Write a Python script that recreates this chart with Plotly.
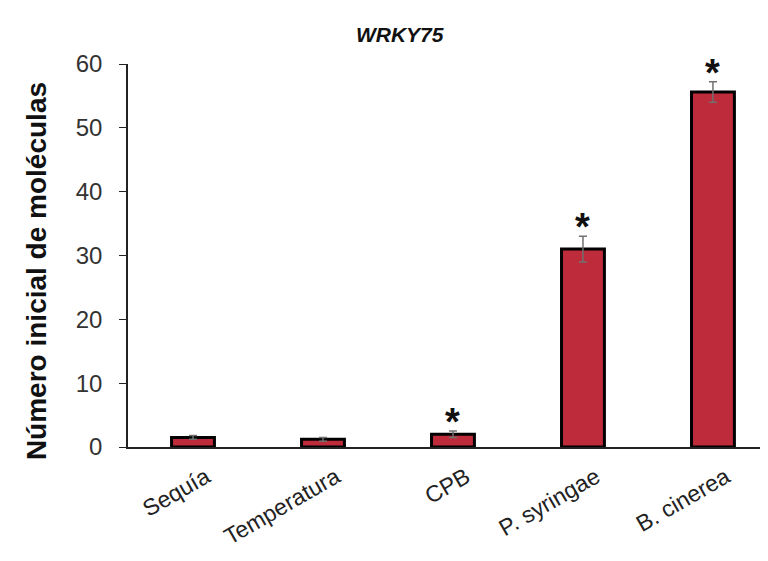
import plotly.graph_objects as go

categories = ["Sequía", "Temperatura", "CPB", "P. syringae", "B. cinerea"]
values = [1.5, 1.2, 2.0, 31.0, 55.6]
errors = [0.3, 0.3, 0.5, 2.0, 1.6]
significant = [False, False, True, True, True]
y_ticks = [0, 10, 20, 30, 40, 50, 60]

x_idx = list(range(len(categories)))

fig = go.Figure()
fig.add_trace(go.Bar(
    x=x_idx, y=values, width=0.33,
    marker=dict(color="#BE2B3B", line=dict(color="#000000", width=3)),
    error_y=dict(type="data", array=errors, visible=True, color="#707070", thickness=1.5, width=4),
))

for i, (v, e, s) in enumerate(zip(values, errors, significant)):
    if s:
        fig.add_annotation(x=i, y=v + e, xref="x", yref="y", text="<b>*</b>",
                           showarrow=False, yanchor="middle", yshift=9,
                           font=dict(family="Arial, Liberation Sans", size=38, color="#111111"))

# y-axis title (placed slightly below the axis centre, as in the reference)
fig.add_annotation(text="<b>Número inicial de moléculas</b>", xref="paper", yref="paper",
                   x=-0.14, y=0.46, xanchor="center", yanchor="middle", textangle=-90,
                   showarrow=False, font=dict(family="Arial, Liberation Sans", size=28, color="#111111"))

fig.update_layout(
    width=768, height=561,
    margin=dict(l=120, r=0, t=56, b=122),
    paper_bgcolor="white", plot_bgcolor="white",
    showlegend=False,
    font=dict(family="Arial, Liberation Sans", color="#333333"),
    title=dict(text="<b><i>WRKY75</i></b>", x=0.51, xanchor="center", y=0.953, yanchor="middle",
               font=dict(size=21, color="#111111")),
    xaxis=dict(
        range=[-0.5, 4.485], tickmode="array", tickvals=x_idx, ticktext=categories,
        tickangle=-30, showline=True, linecolor="#222222", linewidth=1.5,
        ticks="", showgrid=False, zeroline=False,
        ticklabelshift=13, ticklabelstandoff=6,
        tickfont=dict(size=23, color="#222222"),
    ),
    yaxis=dict(
        range=[0, 60], tickvals=y_ticks, showline=True, linecolor="#222222", linewidth=1.5,
        ticks="outside", ticklen=7, tickcolor="#222222", showgrid=False, zeroline=False,
        ticklabelstandoff=12,
        tickfont=dict(size=24, color="#333333"),
    ),
)

fig.write_html("out.html")
